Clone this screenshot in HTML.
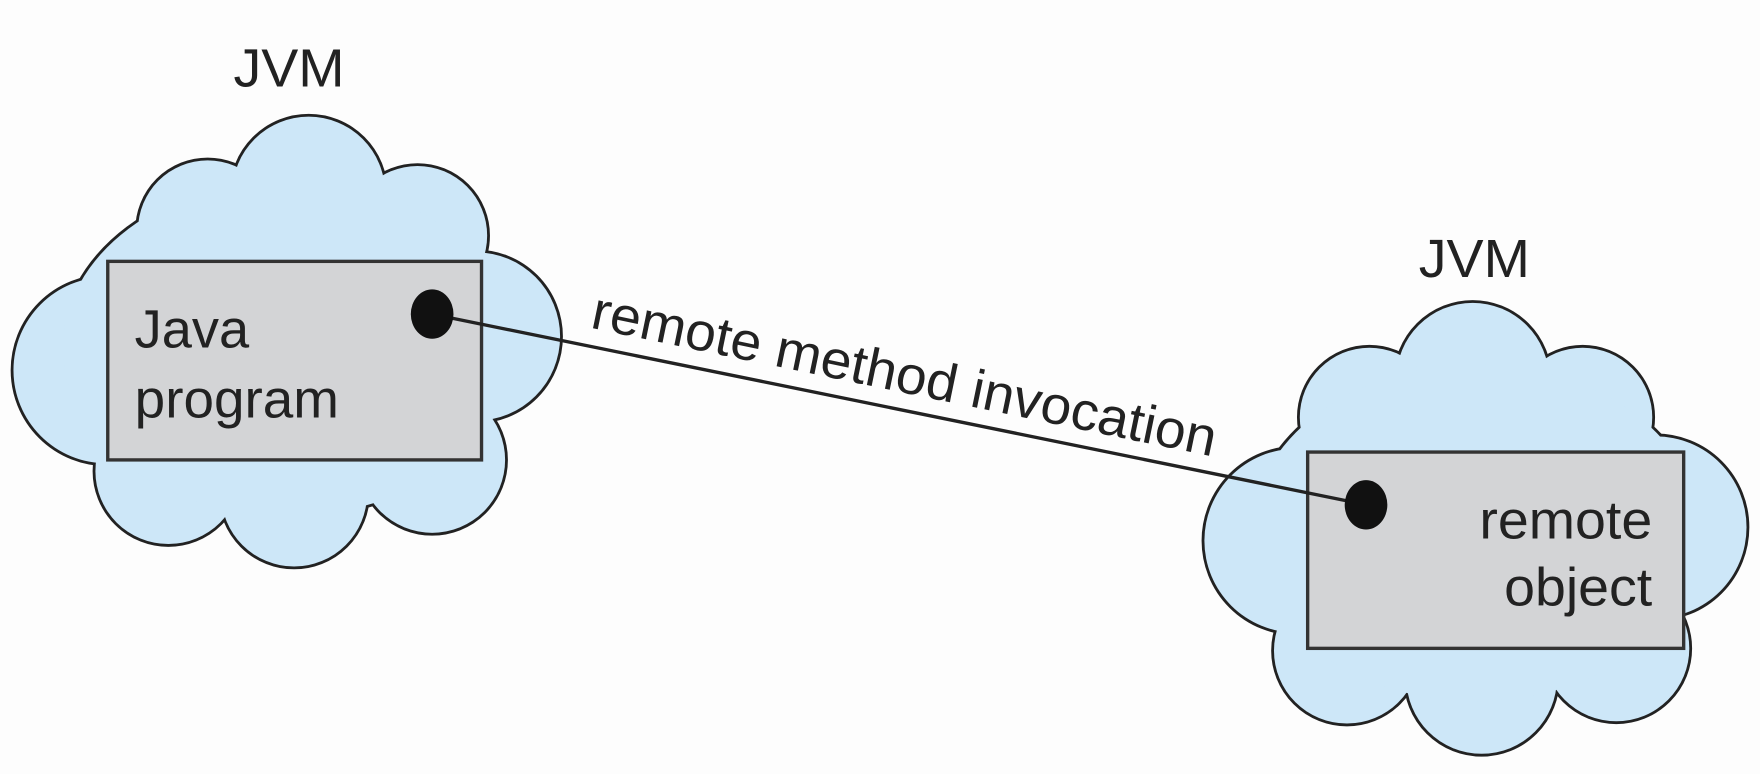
<!DOCTYPE html>
<html><head><meta charset="utf-8"><style>
html,body{margin:0;padding:0;background:#fdfdfd;}
svg{display:block;}
text{font-family:"Liberation Sans",Arial,sans-serif;fill:#222;}
</style></head><body>
<svg width="1760" height="774" viewBox="0 0 1568 690" preserveAspectRatio="none" xmlns="http://www.w3.org/2000/svg">
<rect width="1568" height="690" fill="#fdfdfd"/>
<g stroke="#222" stroke-width="5" fill="#222">
 <circle cx="275" cy="172" r="68"/><circle cx="185" cy="205" r="62"/><circle cx="372" cy="210" r="62"/>
 <circle cx="95" cy="330" r="83"/><circle cx="424" cy="300" r="75"/><circle cx="150" cy="420" r="65"/>
 <circle cx="262" cy="440" r="65"/><circle cx="385" cy="410" r="65"/><ellipse cx="256" cy="310" rx="200" ry="150"/>
 <circle cx="1312" cy="338" r="68"/><circle cx="1220" cy="372" r="62"/><circle cx="1410" cy="372" r="62"/>
 <circle cx="1155" cy="482" r="82"/><circle cx="1475" cy="470" r="81"/><circle cx="1320" cy="605" r="67"/>
 <circle cx="1200" cy="580" r="65"/><circle cx="1440" cy="578" r="65"/><ellipse cx="1315" cy="475" rx="200" ry="150"/>
</g>
<g fill="#cde7f8">
 <circle cx="275" cy="172" r="68"/><circle cx="185" cy="205" r="62"/><circle cx="372" cy="210" r="62"/>
 <circle cx="95" cy="330" r="83"/><circle cx="424" cy="300" r="75"/><circle cx="150" cy="420" r="65"/>
 <circle cx="262" cy="440" r="65"/><circle cx="385" cy="410" r="65"/><ellipse cx="256" cy="310" rx="200" ry="150"/>
 <circle cx="1312" cy="338" r="68"/><circle cx="1220" cy="372" r="62"/><circle cx="1410" cy="372" r="62"/>
 <circle cx="1155" cy="482" r="82"/><circle cx="1475" cy="470" r="81"/><circle cx="1320" cy="605" r="67"/>
 <circle cx="1200" cy="580" r="65"/><circle cx="1440" cy="578" r="65"/><ellipse cx="1315" cy="475" rx="200" ry="150"/>
</g>
<rect x="96" y="233" width="333" height="177" fill="#d3d4d6" stroke="#333" stroke-width="3"/>
<rect x="1165" y="403" width="335" height="175" fill="#d3d4d6" stroke="#333" stroke-width="3"/>
<line x1="385" y1="280" x2="1217" y2="450" stroke="#222" stroke-width="3"/>
<ellipse cx="385" cy="280" rx="19" ry="22" fill="#111"/>
<ellipse cx="1217" cy="450" rx="19" ry="22" fill="#111"/>
<text x="208" y="77" font-size="48" textLength="99" lengthAdjust="spacingAndGlyphs">JVM</text>
<text x="1264" y="247" font-size="48" textLength="99" lengthAdjust="spacingAndGlyphs">JVM</text>
<text x="120" y="310" font-size="48" textLength="102" lengthAdjust="spacingAndGlyphs">Java</text>
<text x="120" y="372" font-size="48" textLength="182" lengthAdjust="spacingAndGlyphs">program</text>
<text x="1318" y="480" font-size="48" textLength="154" lengthAdjust="spacingAndGlyphs">remote</text>
<text x="1340" y="540" font-size="48" textLength="132" lengthAdjust="spacingAndGlyphs">object</text>
<text x="0" y="0" font-size="48" textLength="567" lengthAdjust="spacingAndGlyphs" transform="translate(525,292) rotate(11.7)">remote method invocation</text>
</svg>
</body></html>
